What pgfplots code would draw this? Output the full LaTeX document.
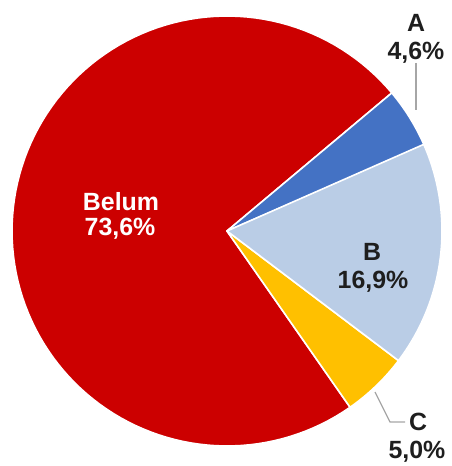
\documentclass[border=0pt]{standalone}
\usepackage{pgfplots}
\pgfplotsset{compat=1.18}
\usepackage{pgfplotstable}
\usepackage{fontspec}
\setmainfont{Liberation Sans}

\definecolor{cA}{RGB}{68,114,196}
\definecolor{cB}{RGB}{186,205,230}
\definecolor{cC}{RGB}{255,192,0}
\definecolor{cBelum}{RGB}{204,0,0}
\definecolor{txt}{RGB}{30,30,30}
\definecolor{lead}{RGB}{166,166,166}

\tikzset{lbl/.style={font=\fontsize{25}{28}\bfseries\selectfont, text=txt, inner sep=0pt}}

% share of each slice, in percent
\pgfplotstableread{
label value
A 4.6
Belum 73.6
C 5.0
B 16.9
}\piedata

\pgfplotstablegetelem{0}{value}\of\piedata \let\vA\pgfplotsretval
\pgfplotstablegetelem{1}{value}\of\piedata \let\vBelum\pgfplotsretval
\pgfplotstablegetelem{2}{value}\of\piedata \let\vC\pgfplotsretval
\pgfplotstablegetelem{3}{value}\of\piedata \let\vB\pgfplotsretval

% slice angles, counter-clockwise from the start of A
\pgfmathsetmacro{\tA}{23.4}
\pgfmathsetmacro{\tBelum}{\tA+3.6*\vA}
\pgfmathsetmacro{\tC}{\tBelum+3.6*\vBelum}
\pgfmathsetmacro{\tB}{\tC+3.6*\vC}
\pgfmathsetmacro{\tEnd}{\tB+3.6*\vB}

\def\cx{227}
\def\cy{235}
\def\rr{215}

\begin{document}
\begin{tikzpicture}
\begin{axis}[
    scale only axis,
    width=452bp, height=466bp,
    xmin=0, xmax=452, ymin=0, ymax=466,
    hide axis,
    clip=false,
    every axis plot/.append style={draw=white, line width=1.6bp, line join=round},
]
% keep the full canvas in the bounding box
\path (axis cs:0,0) rectangle (axis cs:452,466);

\addplot[fill=cBelum, domain=\tBelum:\tC, samples=120]
    ({\cx+\rr*cos(x)}, {\cy+\rr*sin(x)}) -- (axis cs:\cx,\cy) -- cycle;
\addplot[fill=cA, domain=\tA:\tBelum, samples=20]
    ({\cx+\rr*cos(x)}, {\cy+\rr*sin(x)}) -- (axis cs:\cx,\cy) -- cycle;
\addplot[fill=cC, domain=\tC:\tB, samples=20]
    ({\cx+\rr*cos(x)}, {\cy+\rr*sin(x)}) -- (axis cs:\cx,\cy) -- cycle;
\addplot[fill=cB, domain=\tB:\tEnd, samples=40]
    ({\cx+\rr*cos(x)}, {\cy+\rr*sin(x)}) -- (axis cs:\cx,\cy) -- cycle;

% leader lines
\draw[lead, line width=1.2bp] (axis cs:416,403) -- (axis cs:416,356);
\draw[lead, line width=1.2bp] (axis cs:375,74) -- (axis cs:390,44) -- (axis cs:405,44);

% labels
\node[lbl] at (axis cs:416,443) {A};
\node[lbl] at (axis cs:416,413) {4,6\%};
\node[lbl] at (axis cs:372,214) {B};
\node[lbl] at (axis cs:373,184) {16,9\%};
\node[lbl, text=white] at (axis cs:121,264) {Belum};
\node[lbl, text=white] at (axis cs:120,237) {73,6\%};
\node[lbl] at (axis cs:418,44) {C};
\node[lbl] at (axis cs:417,14) {5,0\%};
\end{axis}
\end{tikzpicture}
\end{document}
